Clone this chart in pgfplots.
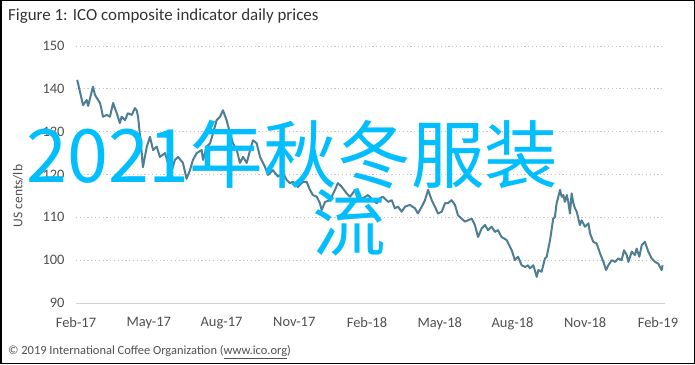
\documentclass[border=0pt]{standalone}
\usepackage{fontspec}
\setmainfont{Carlito}
\newfontfamily\cjk{Noto Sans CJK SC}
\usepackage{pgfplots}
\pgfplotsset{compat=1.18}
\definecolor{linec}{RGB}{78,126,148}
\definecolor{overlay}{RGB}{0,190,255}
\definecolor{tickc}{RGB}{80,80,80}
\begin{document}
\begin{tikzpicture}[x=1bp,y=1bp]
\useasboundingbox (0,0) rectangle (695,364);
\fill[white] (0,0) rectangle (695,364);
\begin{axis}[
  at={(76bp,61bp)}, anchor=south west,
  scale only axis, width=589bp, height=257bp,
  xmin=0, xmax=24.29, ymin=90, ymax=150,
  ytick={90,100,...,150},
  xtick={0,3,...,24},
  xticklabels={Feb-17,May-17,Aug-17,Nov-17,Feb-18,May-18,Aug-18,Nov-18,Feb-19},
  /pgf/number format/assume math mode=true,
  ticklabel style={font=\fontsize{14.5}{16}\selectfont, text=tickc},
  yticklabel style={xshift=-8bp},
  xticklabel style={yshift=-11bp},
  major tick length=0pt,
  separate axis lines,
  axis x line*=bottom, axis y line*=left,
  x axis line style={draw=gray!35, line width=1bp},
  y axis line style={draw=none},
  ymajorgrids,
  grid style={draw=gray!45, line width=1bp, dash pattern=on 1.2bp off 2.6bp},
  clip=false,
]
\addplot[linec, line width=2bp, line join=round] coordinates {
(0.05,142.1)(0.29,136.2)(0.44,137.4)(0.50,136.0)(0.70,140.5)(0.78,138.6)(0.99,136.7)(1.06,135.0)(1.11,133.5)(1.27,133.9)(1.40,133.5)(1.53,136.7)(1.68,134.3)(1.81,132.0)(1.88,133.5)(2.02,132.7)(2.14,134.3)(2.30,133.9)(2.43,135.5)(2.50,135.0)(2.56,133.5)(2.71,125.0)(2.76,121.7)(2.92,126.5)(3.05,128.8)(3.18,125.7)(3.33,126.5)(3.46,124.1)(3.67,125.0)(3.79,122.7)(3.95,121.0)(4.08,123.4)(4.21,124.1)(4.41,122.7)(4.56,119.0)(4.70,121.0)(4.82,123.4)(4.98,125.0)(5.18,125.7)(5.24,123.4)(5.39,126.5)(5.53,127.3)(5.65,129.6)(5.80,132.7)(5.94,133.5)(6.06,135.0)(6.21,132.7)(6.35,129.6)(6.47,127.3)(6.63,125.7)(6.76,122.7)(6.89,124.1)(7.04,122.7)(7.18,125.7)(7.30,128.0)(7.45,127.3)(7.59,124.1)(7.79,121.8)(7.92,119.9)(8.12,121.0)(8.33,119.5)(8.54,120.3)(8.69,118.7)(8.82,118.0)(8.95,118.3)(9.15,117.1)(9.36,118.3)(9.51,118.3)(9.65,116.4)(9.77,115.2)(9.93,114.8)(10.06,113.3)(10.13,111.7)(10.27,113.6)(10.47,114.0)(10.68,116.4)(10.80,118.0)(10.96,117.1)(11.16,115.6)(11.30,114.8)(11.51,116.4)(11.63,114.0)(11.84,114.5)(12.04,115.2)(12.25,114.0)(12.40,113.3)(12.54,114.5)(12.66,114.8)(12.87,113.6)(13.02,114.0)(13.15,112.1)(13.28,112.5)(13.43,111.3)(13.57,112.5)(13.77,112.9)(13.98,112.1)(14.10,110.9)(14.26,112.5)(14.39,114.0)(14.52,116.4)(14.67,114.0)(14.80,112.5)(14.93,110.9)(15.08,111.3)(15.22,113.3)(15.34,113.3)(15.49,114.0)(15.63,112.9)(15.75,110.5)(15.90,109.7)(16.04,109.0)(16.16,109.3)(16.32,109.7)(16.45,108.2)(16.58,105.4)(16.73,107.4)(16.87,108.2)(16.99,107.0)(17.14,107.8)(17.28,106.6)(17.40,107.0)(17.55,105.4)(17.76,104.7)(17.97,102.3)(18.10,100.0)(18.23,100.8)(18.38,98.8)(18.52,98.4)(18.64,98.8)(18.72,98.1)(18.86,98.8)(19.00,96.1)(19.07,97.7)(19.20,97.3)(19.34,100.4)(19.41,100.8)(19.55,104.7)(19.68,109.7)(19.75,110.1)(19.82,113.3)(19.89,114.8)(19.96,116.4)(20.03,114.8)(20.10,115.2)(20.16,113.6)(20.24,115.2)(20.30,113.6)(20.37,110.9)(20.44,115.6)(20.51,113.3)(20.58,112.1)(20.65,111.3)(20.78,108.2)(20.85,109.3)(20.99,107.8)(21.13,108.6)(21.20,106.2)(21.33,104.3)(21.47,103.9)(21.61,101.6)(21.75,99.6)(21.86,97.7)(21.95,98.8)(22.09,100.0)(22.23,99.6)(22.36,100.4)(22.50,100.0)(22.60,102.3)(22.71,101.2)(22.78,99.6)(22.92,102.0)(23.05,101.2)(23.12,102.7)(23.23,100.8)(23.33,103.5)(23.46,104.3)(23.60,102.0)(23.74,100.4)(23.88,99.6)(24.01,99.2)(24.15,97.7)(24.19,98.8)
};
\end{axis}
\node[anchor=west, inner sep=0pt, font=\fontsize{17}{19}\selectfont, text=black!80] at (8,348) {Figure 1: ICO composite indicator daily prices};
\node[rotate=90, inner sep=0pt, font=\fontsize{13.5}{15}\selectfont, text=tickc] at (18,168) {US cents/lb};
\node[anchor=west, inner sep=0pt, font=\fontsize{12.5}{14}\selectfont, text=tickc] at (8,12) {\textcopyright{} 2019 International Coffee Organization (\underline{www.ico.org})};
\node[anchor=base west, inner sep=0pt, font=\cjk\fontsize{74}{80}\selectfont, text=overlay] at (26,182) {2021年秋冬服装};
\node[anchor=base west, inner sep=0pt, font=\cjk\fontsize{74}{80}\selectfont, text=overlay] at (312,114) {流};
\draw[black, line width=1.5bp] (0.75,0.75) rectangle (694.25,363.25);
\end{tikzpicture}
\end{document}
